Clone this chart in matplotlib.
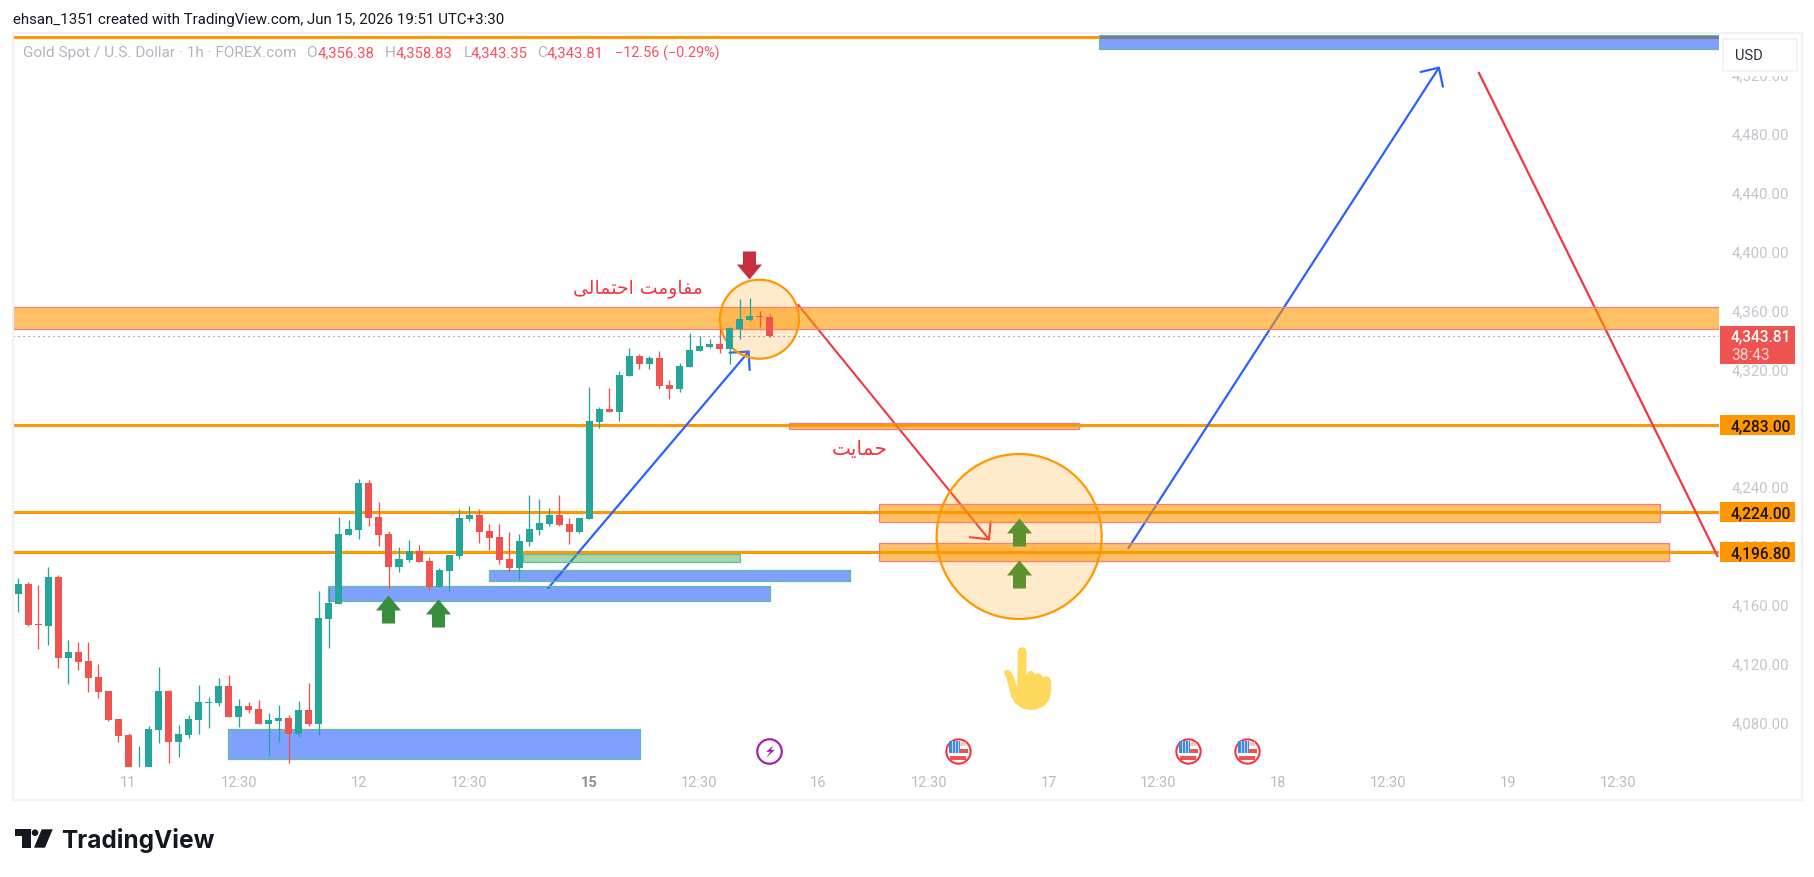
import matplotlib
matplotlib.use('Agg')
import matplotlib.pyplot as plt
from matplotlib.colors import to_rgba
from matplotlib.patches import Rectangle, Ellipse, Polygon
from matplotlib.path import Path

plt.rcParams['font.family'] = ['Roboto', 'DejaVu Sans']

# Hourly candles
opens = [4168.5, 4175.3, 4148.1, 4146.8, 4180.0, 4125.0, 4129.1, 4123.0, 4112.1, 4102.6,
         4083.6, 4072.7, 4040.0, 4040.0, 4076.1, 4102.6, 4068.0, 4072.7, 4082.9, 4094.5,
         4094.5, 4106.0, 4085.0, 4092.4, 4090.4, 4080.2, 4082.2, 4084.3, 4073.4, 4089.7,
         4080.2, 4151.5, 4161.7, 4208.6, 4212.0, 4243.9, 4220.8, 4209.3, 4186.8, 4191.6,
         4197.7, 4190.9, 4173.3, 4184.1, 4194.3, 4219.4, 4222.2, 4211.3, 4207.2, 4192.3,
         4186.2, 4203.8, 4212.0, 4216.0, 4222.2, 4216.0, 4210.6, 4219.6, 4285.3, 4294.1,
         4292.1, 4316.5, 4330.1, 4324.7, 4328.7, 4310.4, 4307.7, 4322.6, 4333.5, 4336.2,
         4338.2, 4334.9, 4348.4, 4354.5, 4357.3, 4356.38]
highs = [4179.4, 4176.7, 4174.6, 4186.8, 4181.4, 4137.2, 4135.9, 4135.9, 4121.0, 4102.6,
         4083.6, 4074.1, 4065.3, 4078.8, 4118.9, 4103.3, 4079.5, 4086.3, 4106.7, 4098.5,
         4111.4, 4113.5, 4097.2, 4095.1, 4096.5, 4087.7, 4093.1, 4086.3, 4095.8, 4108.0,
         4170.5, 4172.6, 4220.8, 4218.8, 4246.6, 4245.9, 4231.0, 4211.3, 4200.4, 4205.2,
         4201.8, 4193.6, 4186.2, 4195.0, 4226.2, 4228.3, 4226.2, 4216.0, 4216.0, 4210.6,
         4209.3, 4235.7, 4233.0, 4226.9, 4235.7, 4220.1, 4220.1, 4309.0, 4295.5, 4308.4,
         4319.9, 4335.5, 4331.5, 4330.1, 4333.5, 4313.8, 4325.3, 4345.7, 4343.7, 4341.6,
         4348.4, 4349.8, 4368.8, 4369.5, 4360.7, 4358.83]
lows = [4156.3, 4146.8, 4131.1, 4133.9, 4118.2, 4107.4, 4116.9, 4102.0, 4097.9, 4082.2,
        4068.0, 4045.0, 4036.0, 4038.0, 4067.3, 4053.7, 4057.8, 4070.7, 4073.4, 4077.5,
        4092.4, 4085.0, 4078.2, 4087.7, 4080.2, 4058.5, 4068.0, 4053.7, 4071.4, 4078.8,
        4072.7, 4131.8, 4161.7, 4208.6, 4205.9, 4214.7, 4201.1, 4171.9, 4183.4, 4190.2,
        4190.2, 4171.2, 4173.3, 4170.5, 4192.3, 4218.1, 4203.1, 4198.4, 4188.9, 4183.4,
        4178.0, 4201.1, 4208.6, 4214.7, 4214.7, 4202.5, 4209.9, 4219.6, 4281.2, 4292.1,
        4285.9, 4316.5, 4321.3, 4321.3, 4307.7, 4300.9, 4305.6, 4322.6, 4333.5, 4335.5,
        4332.1, 4324.7, 4341.6, 4353.9, 4349.8, 4343.35]
closes = [4175.3, 4147.4, 4147.4, 4180.0, 4125.0, 4129.1, 4122.3, 4111.4, 4102.0, 4082.9,
          4072.0, 4048.0, 4048.0, 4076.8, 4102.6, 4068.0, 4073.4, 4083.6, 4095.1, 4095.1,
          4106.0, 4085.0, 4092.4, 4089.7, 4080.2, 4082.9, 4084.3, 4073.4, 4089.7, 4080.2,
          4152.2, 4162.4, 4209.3, 4212.6, 4243.9, 4220.1, 4208.6, 4186.8, 4192.3, 4197.7,
          4190.2, 4173.3, 4184.8, 4195.0, 4220.1, 4222.2, 4210.6, 4206.5, 4191.6, 4186.2,
          4204.5, 4212.6, 4216.7, 4222.2, 4215.4, 4210.6, 4220.1, 4285.9, 4294.1, 4292.1,
          4317.2, 4330.1, 4324.7, 4328.7, 4309.7, 4307.7, 4323.3, 4334.2, 4336.9, 4338.2,
          4334.9, 4349.1, 4355.2, 4357.3, 4356.6, 4343.81]

last_price = 4343.81
levels = [4283.0, 4224.0, 4196.8, 4546.9]
level_tags = ['4,283.00', '4,224.00', '4,196.80']

price_ticks = [4080, 4120, 4160, 4200, 4240, 4280, 4320, 4360, 4400, 4440, 4480, 4520]
price_labels = ['4,080.00', '4,120.00', '4,160.00', '4,200.00', '4,240.00', '4,280.00',
                '4,320.00', '4,360.00', '4,400.00', '4,440.00', '4,480.00', '4,520.00']
time_ticks = [11, 22, 34, 45, 57, 68, 79.85, 90.9, 102.85, 113.8, 125.75, 136.7, 148.75, 159.7]
time_labels = ['11', '12:30', '12', '12:30', '15', '12:30', '16', '12:30', '17', '12:30',
               '18', '12:30', '19', '12:30']

# Drawings: start bar, end bar, low price, high price
orange_zones = [(-0.53, 169.76, 4348.3, 4363.2), (76.9, 105.9, 4280.4, 4284.8),
                (85.9, 163.9, 4217.2, 4229.4), (85.9, 164.8, 4190.7, 4202.9)]
blue_zones = [(107.9, 169.76, 4538.9, 4548.5), (20.96, 62.05, 4056.2, 4076.6),
              (30.9, 75.0, 4163.9, 4173.7), (47.0, 83.0, 4177.5, 4184.6)]
green_zones = [(50.35, 72.0, 4190.4, 4195.4)]
# centre bar, centre price, width in bars, height in price
circles = [(73.98, 4355.1, 7.89, 53.7), (99.9, 4207.5, 16.47, 112.1)]
# polylines as bars, prices
blue_arrows = [([52.9, 72.9], [4172.5, 4333.1], [71.0, 72.9, 73.0], [4332.4, 4333.1, 4320.6]),
               ([110.8, 141.8], [4199.5, 4526.0], [139.98, 141.8, 142.2], [4523.1, 4526.0, 4513.1])]
red_arrow = ([77.86, 96.89], [4364.8, 4205.6], [95.0, 96.89, 97.06], [4207.0, 4205.6, 4217.6])
red_line = ([145.8, 169.6], [4522.4, 4194.3])

up_bars_dark = [36.93, 41.92]
up_prices_dark = [4158.3, 4155.6]
up_bars_olive = [99.92, 99.92]
up_prices_olive = [4210.7, 4182.2]
flag_bars = [93.83, 116.75, 122.65]
event_price = 4062.0
bolt_bar = 74.96

GREEN = '#26A69A'
RED = '#EF5350'
ORANGE = '#FF9800'
BAR_PX = 10.018
PRICE_PX = 1.472


def Shape(text):
  # matplotlib does not join Arabic letters, so the text is given in presentation forms
  return text[::-1]


fig = plt.figure(figsize=(18.14, 8.77), dpi=100, facecolor='white')
ax = fig.add_axes([13 / 1814, 1 - 767 / 877, 1706 / 1814, 732 / 877])
ax.set_xlim(-0.53, 169.76)
ax.set_ylim(4050.9, 4548.2)
for s in ax.spines.values():
  s.set_visible(False)

ax.yaxis.tick_right()
ax.set_yticks(price_ticks)
ax.set_yticklabels(price_labels, fontsize=10.8, color='#C2C5CC', va='center')
ax.set_xticks(time_ticks)
ax.set_xticklabels(time_labels, fontsize=10.5, color='#B8BBC5')
ax.tick_params(axis='both', length=0)
ax.tick_params(axis='y', pad=9.4)
ax.tick_params(axis='x', pad=6.5)
for lab in ax.get_xticklabels():
  if lab.get_text() == '15':
    lab.set_fontweight('bold')
    lab.set_color('#8E919B')

# Lines sit under the zones, their colour shows through
for lvl in levels:
  ax.axhline(lvl, color=ORANGE, lw=2.2, zorder=1)
for xs, ys, hx, hy in blue_arrows:
  ax.plot(xs, ys, color='#2962FF', lw=1.6, zorder=1, solid_capstyle='round')
  ax.plot(hx, hy, color='#2962FF', lw=1.6, zorder=1, solid_capstyle='round')
xs, ys, hx, hy = red_arrow
ax.plot(xs, ys, color='#F23645', lw=1.5, zorder=1)
ax.plot(hx, hy, color='#F23645', lw=1.5, zorder=1)
ax.plot(red_line[0], red_line[1], color='#F23645', lw=1.6, zorder=1)


def AddZones(zones, fill, alpha, edge):
  for x0, x1, lo, hi in zones:
    ax.add_patch(Rectangle((x0, lo), x1 - x0, hi - lo, facecolor=to_rgba(fill, alpha),
                           edgecolor=edge, lw=0.9, zorder=2))


AddZones(orange_zones, ORANGE, 0.6, '#F77C80')
AddZones(blue_zones, '#2962FF', 0.6, '#66BB9A')
AddZones(green_zones, '#4CAF50', 0.5, '#66BB9A')

for cx, cy, w, h in circles:
  ax.add_patch(Ellipse((cx, cy), w, h, facecolor=to_rgba(ORANGE, 0.2), edgecolor=ORANGE,
                       lw=1.6, zorder=3))

ax.axhline(last_price, color='#7A6C80', lw=0.8, ls=(0, (1, 3.5)), zorder=3.5)

# Candles
bars = list(range(len(opens)))
colors = [GREEN if c >= o else RED for o, c in zip(opens, closes)]
ax.vlines(bars, lows, highs, colors=colors, lw=0.95, zorder=5)
ax.bar(bars, [abs(c - o) for o, c in zip(opens, closes)], 0.7,
       [min(o, c) for o, c in zip(opens, closes)], color=colors, lw=0, zorder=6)

# Arrow and hand icons as markers
up_arrow = Path([(0, 1), (.893, -.07), (.464, -.07), (.464, -1), (-.464, -1), (-.464, -.07),
                 (-.893, -.07), (0, 1)], closed=True)
down_arrow = Path([(x, -y) for x, y in up_arrow.vertices], closed=True)
ax.plot(up_bars_dark, up_prices_dark, ls='', marker=up_arrow, ms=20.2, mfc='#388E3C', mec='none', zorder=7)
ax.plot(up_bars_olive, up_prices_olive, ls='', marker=up_arrow, ms=20.2, mfc='#5F9130', mec='none', zorder=7)
ax.plot([72.97], [4392.0], ls='', marker=down_arrow, ms=20.2, mfc='#C62F40', mec='none', zorder=7)

hand_pts = [(352, 632), (356, 624), (365, 621), (374, 624), (378, 632), (378, 705), (385, 693),
            (395, 692), (403, 703), (410, 700), (420, 701), (428, 712), (436, 708), (448, 712),
            (452, 725), (452, 750), (448, 775), (432, 797), (410, 807), (388, 810), (365, 805),
            (345, 790), (332, 770), (326, 745), (318, 715), (310, 698), (313, 690), (322, 688),
            (332, 695), (342, 715), (350, 745), (352, 632)]
hand = Path([((x - 381) / 95, (715 - y) / 95) for x, y in hand_pts], closed=True)
ax.plot([100.7], [4111.4], ls='', marker=hand, ms=45.6, mfc='#FFD95C', mec='none', zorder=7)

# Event icons along the bottom
ax.plot(flag_bars + [bolt_bar], [event_price] * 4, ls='', marker='o', ms=17.5, mfc='white',
        mew=1.5, mec='#F23645', zorder=7)
ax.plot([bolt_bar], [event_price], ls='', marker='o', ms=17.5, mfc='white', mew=1.5,
        mec='#9C27B0', zorder=7.1)
bolt = Path([(.63, 1), (-.53, -.05), (.11, -.05), (-.53, -1), (.84, .26), (.21, .26), (.63, 1)], closed=True)
ax.plot([bolt_bar], [event_price], ls='', marker=bolt, ms=9.1, mfc='#9C27B0', mec='none', zorder=7.2)


def FlagBox(bar, dx0, dx1, dy0, dy1, color):
  # offsets in pixels from the icon centre, dy going down
  ax.add_patch(Rectangle((bar + dx0 / BAR_PX, event_price - dy1 / PRICE_PX), (dx1 - dx0) / BAR_PX,
                         (dy1 - dy0) / PRICE_PX, facecolor=color, lw=0, zorder=7.5))


for b in flag_bars:
  FlagBox(b, 2, 8, -9, -5, '#F9C5C5')
  FlagBox(b, 2, 10, -2, 2, RED)
  FlagBox(b, -8, 8, 5, 9, RED)
  FlagBox(b, -9, 2, -10, 2, '#3D8BE0')
  for d in (-6, -3, 0):
    FlagBox(b, d, d + 0.7, -10, 2, '#BBD8F5')
  for d in (-7, -4, -1):
    FlagBox(b, -9, 2, d, d + 0.7, '#BBD8F5')

# Persian notes
note_resist = '\uFEE3\uFED4\uFE8E\uFEED\uFEE3\uFE96 \uFE8D\uFEA3\uFE98\uFEE4\uFE8E\uFEDF\uFBFD'
note_support = '\uFEA3\uFEE4\uFE8E\uFBFE\uFE96'
ax.text(61.8, 4376.3, Shape(note_resist), color='#F23645', fontsize=13.5, ha='center', va='center',
        family='DejaVu Sans', zorder=8)
ax.text(84.0, 4266.5, Shape(note_support), color='#F23645', fontsize=14.5, ha='center', va='center',
        family='DejaVu Sans', zorder=8)

# Price tags on the scale
tag_x = ax.get_yaxis_transform()
for lvl, lab in zip(levels, level_tags):
  ax.add_patch(Rectangle((1.0006, lvl - 6.8), 0.044, 13.6, transform=tag_x, facecolor=ORANGE,
                         lw=0, clip_on=False, zorder=9))
  ax.text(1.042, lvl, lab, transform=tag_x, ha='right', va='center_baseline', fontsize=11.2,
          fontweight='medium', color='#1A1308', zorder=10)
ax.add_patch(Rectangle((1.0006, 4324.4), 0.044, 26.1, transform=tag_x, facecolor='#EF5350', lw=0,
                       clip_on=False, zorder=9))
ax.text(1.0071, last_price, '4,343.81', transform=tag_x, ha='left', va='center_baseline', fontsize=11.2,
        fontweight='medium', color='white', zorder=10)
ax.text(1.0071, 4331.7, '38:43', transform=tag_x, ha='left', va='center_baseline', fontsize=11.2,
        color='#FFD4D3', zorder=10)

# Page furniture in pixel coordinates
page = fig.add_axes([0, 0, 1, 1], zorder=5)
page.set_xlim(0, 1814)
page.set_ylim(877, 0)
page.axis('off')
page.patch.set_alpha(0)

page.add_patch(Rectangle((13, 33), 1789, 767, fill=False, edgecolor='#F0F1F4', lw=1.6))
# white strip under the USD button hides the top of the last tick label
page.add_patch(Rectangle((1723, 39), 74, 36.5, facecolor='white', lw=0))
page.add_patch(Rectangle((1723, 39), 74, 31.5, facecolor='white', edgecolor='#F0F1F4', lw=1.2))
page.text(1735, 55.5, 'USD', fontsize=10.5, color='#2A2E39', va='center')

page.text(13, 20, 'ehsan_1351 created with TradingView.com, Jun 15, 2026 19:51 UTC+3:30',
          fontsize=10.84, color='#131722', va='center')
legend_y = 53
page.text(23, legend_y, 'Gold Spot / U.S. Dollar \u00b7 1h \u00b7 FOREX.com', fontsize=11.1,
          color='#B2B5BE', va='center')
for x, lab in [(306.5, 'O'), (385, 'H'), (464, 'L'), (537.5, 'C')]:
  page.text(x, legend_y, lab, fontsize=11.1, color='#B2B5BE', va='center')
for x, lab in [(318, '4,356.38'), (396, '4,358.83'), (471, '4,343.35'), (547, '4,343.81')]:
  page.text(x, legend_y, lab, fontsize=10.7, color='#F7525F', va='center')
page.text(615, legend_y, '\u221212.56 (\u22120.29%)', fontsize=10.4, color='#F7525F', va='center')

# TradingView logo
page.add_patch(Polygon([(15, 829.3), (30.7, 829.3), (30.7, 847.7), (21.7, 847.7), (21.7, 836), (15, 836)],
                       facecolor='#131722', lw=0))
page.add_patch(Ellipse((35, 832.7), 6.6, 6.6, facecolor='#131722', lw=0))
page.add_patch(Polygon([(41.7, 829.3), (52.7, 829.3), (45, 847.7), (34, 847.7)], facecolor='#131722', lw=0))
page.text(61.5, 847.7, 'TradingView', fontsize=17.6, fontweight='bold', family='Inter',
          color='#131722', va='baseline')

fig.savefig('out.png', dpi=100)
